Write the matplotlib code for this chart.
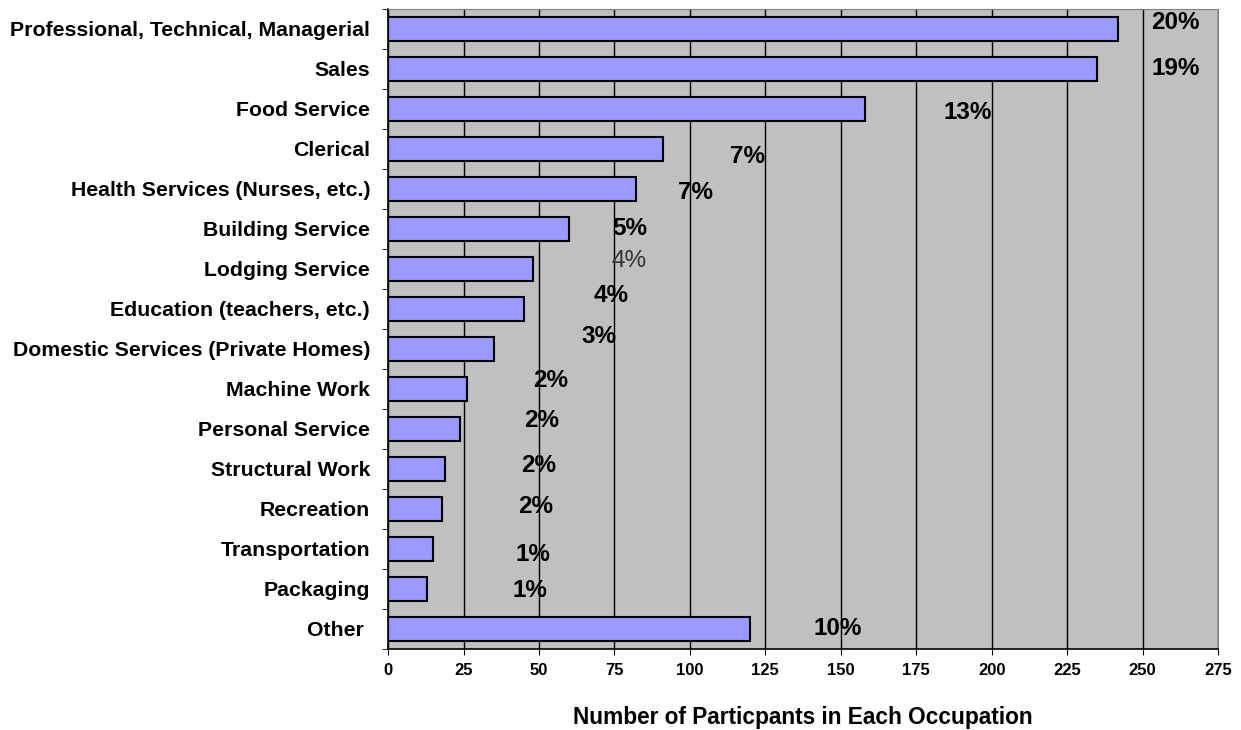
import numpy as np
from matplotlib import pyplot as plt

occupations = ['Professional, Technical, Managerial', 'Sales', 'Food Service', 'Clerical',
               'Health Services (Nurses, etc.)', 'Building Service', 'Lodging Service',
               'Education (teachers, etc.)', 'Domestic Services (Private Homes)', 'Machine Work',
               'Personal Service', 'Structural Work', 'Recreation', 'Transportation', 'Packaging',
               'Other ']
participants = [242, 235, 158, 91, 82, 60, 48, 45, 35, 26, 24, 19, 18, 15, 13, 120]
pct_labels = ['20%', '19%', '13%', '7%', '7%', '5%', '4%', '4%', '3%', '2%', '2%', '2%', '2%', '1%', '1%', '10%']

# where the percentage labels sit (moved around by hand in the original)
label_x = [261, 261, 192, 119, 102, 80, 80, 74, 70, 54, 51, 50, 49, 48, 47, 149]
label_dy = [-0.15, 0, 0.08, 0.2, 0.08, 0, -0.2, -0.33, -0.3, -0.22, -0.2, -0.08, -0.05, 0.15, 0.05, 0]
label_bold = [True] * 6 + [False] + [True] * 9

plt.rcParams['font.family'] = ['Liberation Sans', 'DejaVu Sans']

fig = plt.figure(figsize=(12.41, 7.30), dpi=100)
ax = fig.add_axes([0.3127, 0.111, 0.6688, 0.8767])
ax.set_facecolor('#C0C0C0')

pos = np.arange(len(occupations))
ax.barh(pos, participants, height=0.62, color='#9999FF', edgecolor='black', linewidth=1.5, zorder=3)

for i in range(len(occupations)):
    ax.text(label_x[i], pos[i] + label_dy[i], pct_labels[i], ha='center', va='center',
            fontsize=17.5, fontweight='bold' if label_bold[i] else 'normal',
            color='black' if label_bold[i] else '#333333', zorder=4)

ax.set_xlim(0, 275)
ax.set_ylim(len(occupations) - 0.5, -0.5)
ax.set_xticks(np.arange(0, 276, 25))
ax.tick_params(axis='x', direction='out', length=4, labelsize=12, pad=6)
for lbl in ax.get_xticklabels():
    lbl.set_fontweight('bold')
ax.set_yticks(pos)
ax.set_yticklabels(occupations, fontsize=15.3, fontweight='bold')
ax.tick_params(axis='y', which='major', length=0, pad=13)
ax.set_yticks(np.arange(-0.5, len(occupations)), minor=True)
ax.tick_params(axis='y', which='minor', length=4, direction='out')

ax.grid(axis='x', color='black', linewidth=1, zorder=0)
ax.set_axisbelow(True)
for side in ['top', 'right']:
    ax.spines[side].set_color('#808080')
for side in ['left', 'bottom']:
    ax.spines[side].set_color('black')
    ax.spines[side].set_linewidth(1.2)

ax.set_xlabel('Number of Particpants in Each Occupation', fontsize=16.3, fontweight='bold', labelpad=20)

plt.savefig('out.png', dpi=100)
